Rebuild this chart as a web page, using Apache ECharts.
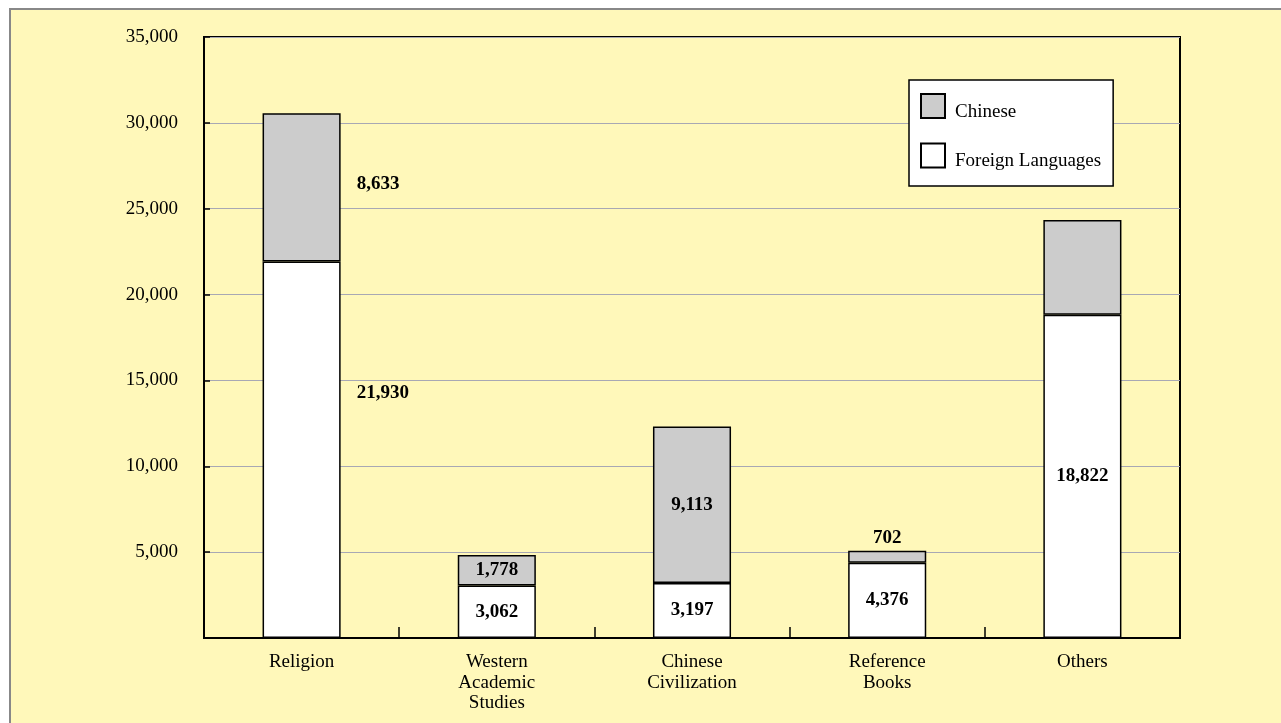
<!DOCTYPE html>
<html>
<head>
<meta charset="utf-8">
<script src="https://cdn.jsdelivr.net/npm/echarts@6/dist/echarts.min.js"></script>
<style>
html,body{margin:0;padding:0;background:#fff;width:1281px;height:723px;overflow:hidden;}
#bg{position:absolute;left:9px;top:8px;right:0;bottom:0;background:#FFF8BA;border-top:2px solid #888;border-left:2px solid #888;}
#chart{position:absolute;left:0;top:0;width:1281px;height:723px;}
</style>
</head>
<body>
<div id="bg"></div>
<div id="chart"></div>
<script>
var categories = ['Religion', 'Western\nAcademic\nStudies', 'Chinese\nCivilization', 'Reference\nBooks', 'Others'];
var foreignValues = [21930, 3062, 3197, 4376, 18822];
var chineseValues = [8633, 1778, 9113, 702, 5520];
var showChineseLabel = [true, true, true, true, false];
var yTicks = [0, 5000, 10000, 15000, 20000, 25000, 30000, 35000];

var FONT = '"Liberation Serif", "DejaVu Serif", serif';
function fmt(v){ return v.toString().replace(/\B(?=(\d{3})+(?!\d))/g, ','); }

var labelBase = {show:true, fontFamily:FONT, fontSize:19, fontWeight:'bold', color:'#000', formatter:function(p){return fmt(p.value);}};

var foreignData = foreignValues.map(function(v,i){
  var d = {value:v};
  if (i === 0) d.label = {position:'right', distance:16, offset:[0,-57]};
  return d;
});
var chineseData = chineseValues.map(function(v,i){
  var d = {value:v};
  if (!showChineseLabel[i]) d.label = {show:false};
  else if (i === 0) d.label = {position:'right', distance:16, offset:[0,-3]};
  else if (i === 3) d.label = {position:'top', distance:3};
  return d;
});

var chart = echarts.init(document.getElementById('chart'), null, {renderer:'canvas'});
chart.setOption({
  backgroundColor:'transparent',
  animation:false,
  grid:{left:204, top:37, right:101, bottom:85, show:true, borderColor:'#000', borderWidth:2, backgroundColor:'transparent'},
  legend:{
    data:['Chinese','Foreign Languages'],
    orient:'vertical', left:909, top:80,
    backgroundColor:'#fff', borderColor:'#000', borderWidth:1.5,
    padding:[13,12,15,11], itemWidth:24, itemHeight:24, itemGap:21,
    icon:'rect',
    formatter:function(n){ return '{a|' + n + '}'; },
    textStyle:{fontFamily:FONT, fontSize:19, color:'#000',
      rich:{a:{fontFamily:FONT, fontSize:19, color:'#000', padding:[12,0,0,5]}}}
  },
  xAxis:{
    type:'category', data:categories,
    axisLine:{show:true, lineStyle:{color:'#000', width:2}},
    axisTick:{show:true, inside:true, length:11, lineStyle:{color:'#000', width:1.5}},
    axisLabel:{fontFamily:FONT, fontSize:19, color:'#000', lineHeight:20.5, margin:14, interval:0},
    splitLine:{show:false}
  },
  yAxis:{
    type:'value', min:0, max:35000, interval:5000,
    axisLine:{show:true, lineStyle:{color:'#000', width:2}},
    axisTick:{show:true, inside:true, length:6, lineStyle:{color:'#000', width:1.5}},
    axisLabel:{fontFamily:FONT, fontSize:19, color:'#000', margin:26,
      formatter:function(v){ return (yTicks.indexOf(v) > 0) ? fmt(v) : ''; }},
    splitLine:{show:true, lineStyle:{color:'#A8A8B4', width:1}}
  },
  series:[
    {name:'Foreign Languages', type:'bar', stack:'total', barWidth:'40%', data:foreignData,
     itemStyle:{color:'#fff', borderColor:'#000', borderWidth:1.5},
     label:Object.assign({position:'inside'}, labelBase)},
    {name:'Chinese', type:'bar', stack:'total', barWidth:'40%', data:chineseData,
     itemStyle:{color:'#CCCCCC', borderColor:'#000', borderWidth:1.5},
     label:Object.assign({position:'inside'}, labelBase)}
  ]
});
</script>
</body>
</html>
